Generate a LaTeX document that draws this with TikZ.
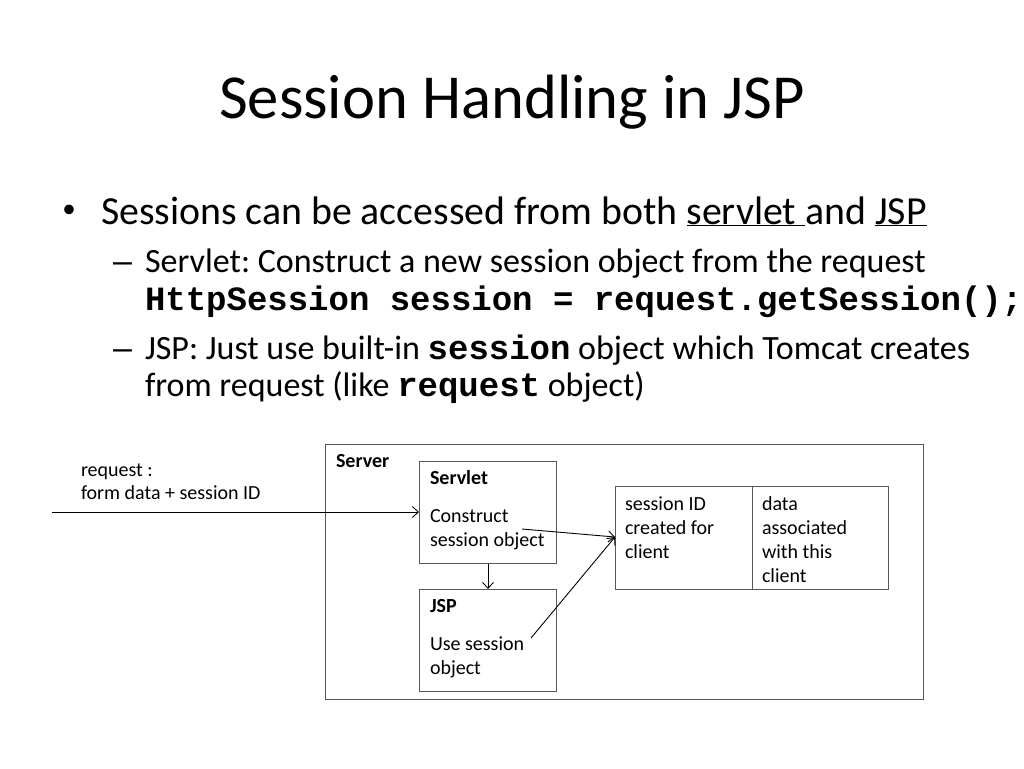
\documentclass[tikz,border=0pt]{standalone}
\usepackage{fontspec}
\setmainfont{Carlito}
\setmonofont{Liberation Mono}
\newfontfamily\dashfont{Liberation Sans}
\usetikzlibrary{arrows.meta}
\frenchspacing
\begin{document}
\begin{tikzpicture}[x=1pt,y=-1pt,
  txt/.style={anchor=base west,inner sep=0pt,outer sep=0pt},
  titlef/.style={font=\fontsize{62.6}{75}\selectfont},
  lvlone/.style={txt,font=\fontsize{39.8}{48}\selectfont},
  lvltwo/.style={txt,font=\fontsize{34}{41}\selectfont},
  dashtxt/.style={txt,font=\fontsize{34}{41}\selectfont\dashfont},
  small/.style={txt,font=\fontsize{20}{24}\selectfont},
  smallb/.style={txt,font=\fontsize{20}{24}\selectfont\bfseries},
  box/.style={draw=black!65,line width=1pt,inner sep=0pt,anchor=north west},
  conn/.style={line width=0.9pt,-{Straight Barb[length=6pt,width=11pt,line width=0.9pt]}}
]
\useasboundingbox[fill=white] (0,0) rectangle (1024,768);
% Title
\node[titlef,anchor=base,inner sep=0pt] (title) at (512,118) {Session Handling in JSP};
% Bullets
\node[inner sep=0pt,font=\fontsize{27}{30}\selectfont] (b1) at (69,211) {•};
\node[lvlone] (t1) at (101,224) {Sessions can be accessed from both \underline{servlet\ }and \underline{JSP}};
\node[dashtxt] (d2) at (113,272) {–};
\node[lvltwo] (t2) at (145,272) {Servlet: Construct a new session object from the request};
\node[lvltwo,font=\fontsize{34}{41}\selectfont\ttfamily\bfseries] (t3) at (145,310) {HttpSession session = request.getSession();};
\node[dashtxt] (d4) at (113,359) {–};
\node[lvltwo] (t4) at (145,359) {JSP: Just use built-in \texttt{\bfseries session} object which Tomcat creates};
\node[lvltwo] (t5) at (145,396) {from request (like \texttt{\bfseries request} object)};
% Diagram
\node[box,minimum width=598pt,minimum height=255pt] (server) at (325,444) {};
\node[smallb] (serverl) at (336,467) {Server};
\node[box,minimum width=137pt,minimum height=102pt] (servlet) at (419,461) {};
\node[smallb] (servletl) at (430,484) {Servlet};
\node[small] (sv1) at (430,522) {Construct};
\node[small] (sv2) at (430,546) {session object};
\node[box,minimum width=137pt,minimum height=102pt] (jsp) at (419,589) {};
\node[smallb] (jspl) at (430,612) {JSP};
\node[small] (js1) at (430,650) {Use session};
\node[small] (js2) at (430,674) {object};
\node[box,minimum width=137pt,minimum height=103pt] (sid) at (615,486) {};
\node[box,minimum width=136pt,minimum height=103pt] (sdata) at (752,486) {};
\node[small] (sid1) at (625,510) {session ID};
\node[small] (sid2) at (625,534) {created for};
\node[small] (sid3) at (625,558) {client};
\node[small] (dat1) at (762,510) {data};
\node[small] (dat2) at (762,534) {associated};
\node[small] (dat3) at (762,558) {with this};
\node[small] (dat4) at (762,582) {client};
\node[small] (req1) at (81,476) {request :};
\node[small] (req2) at (81,499) {form data + session ID};
% Connectors
\coordinate (reqstart) at (52,512);
\coordinate (cstart) at (522,529);
\coordinate (ustart) at (531,638);
\coordinate (target) at (615,537);
\draw[conn] (reqstart) -- (servlet.west |- reqstart);
\draw[conn] (servlet.south) -- (jsp.north);
\draw[conn] (cstart) -- (target);
\draw[conn] (ustart) -- (target);
\end{tikzpicture}
\end{document}
